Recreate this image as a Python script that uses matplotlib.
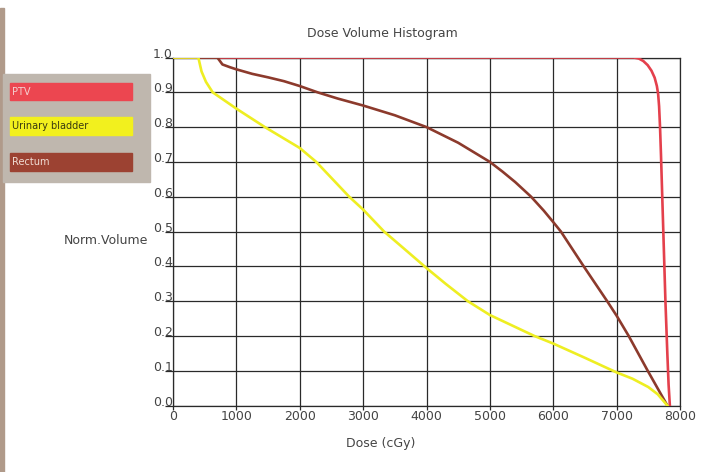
import matplotlib
matplotlib.use("Agg")
import matplotlib.pyplot as plt
from matplotlib.patches import Rectangle

# cumulative DVH points (dose in cGy, normalised volume)
ptv_dose = [0, 7270, 7350, 7420, 7490, 7550, 7600, 7635, 7655, 7670, 7685, 7700,
            7720, 7745, 7770, 7800, 7820, 7840]
ptv_vol = [1.0, 1.0, 0.997, 0.99, 0.978, 0.962, 0.942, 0.918, 0.895, 0.86, 0.8,
           0.72, 0.6, 0.45, 0.3, 0.15, 0.06, 0.0]

bladder_dose = [0, 400, 450, 520, 626, 1000, 1450, 2000, 2260, 2780, 3000, 3330,
                3650, 4000, 4300, 4650, 5000, 5700, 6000, 6500, 7000, 7250, 7500,
                7650, 7800]
bladder_vol = [1.0, 1.0, 0.96, 0.93, 0.9, 0.853, 0.8, 0.74, 0.7, 0.6, 0.563, 0.5,
               0.45, 0.395, 0.35, 0.3, 0.26, 0.2, 0.178, 0.137, 0.095, 0.077, 0.053,
               0.032, 0.0]

rectum_dose = [0, 700, 780, 900, 1000, 1250, 1500, 1750, 2000, 2280, 2600, 3000,
               3500, 4000, 4500, 5000, 5200, 5400, 5650, 5850, 6000, 6120, 6480,
               6850, 7000, 7190, 7490, 7800]
rectum_vol = [1.0, 1.0, 0.98, 0.972, 0.966, 0.953, 0.943, 0.932, 0.918, 0.9, 0.882,
              0.862, 0.834, 0.8, 0.755, 0.7, 0.672, 0.642, 0.6, 0.56, 0.527, 0.5,
              0.4, 0.3, 0.258, 0.2, 0.1, 0.0]

structures = ['PTV', 'Urinary bladder', 'Rectum']
line_colors = ['#e4404c', '#eeee22', '#8c3a2c']
box_colors = ['#ec4650', '#f2f01e', '#9c4232']
text_colors = ['#f4d0d0', '#3a3a10', '#f0dcd4']

x_ticks = [0, 1000, 2000, 3000, 4000, 5000, 6000, 7000, 8000]
y_ticks = [0.0, 0.1, 0.2, 0.3, 0.4, 0.5, 0.6, 0.7, 0.8, 0.9, 1.0]

fig = plt.figure(figsize=(7.11, 4.72), dpi=100)
ax = fig.add_axes([173 / 711, 1 - 405.5 / 472, 507 / 711, 348 / 472])

ax.plot(ptv_dose, ptv_vol, color=line_colors[0], lw=1.9, zorder=3)
ax.plot(rectum_dose, rectum_vol, color=line_colors[2], lw=1.9, zorder=4)
ax.plot(bladder_dose, bladder_vol, color=line_colors[1], lw=1.9, zorder=5)

ax.set_xlim(0, 8000)
ax.set_ylim(0, 1)
ax.set_xticks(x_ticks)
ax.set_xticklabels([str(t) for t in x_ticks])
ax.set_yticks(y_ticks)
ax.set_yticklabels(['%.1f' % t for t in y_ticks], va='baseline')
ax.grid(True, color='#2a2a2a', lw=0.9)
for s in ax.spines.values():
    s.set_color('#2a2a2a')
    s.set_linewidth(0.9)
ax.tick_params(axis='y', direction='out', length=6, width=0.9, pad=-6,
               labelsize=9, labelcolor='#444444', color='#2a2a2a')
ax.tick_params(axis='x', direction='out', length=3, width=0.9, pad=0,
               labelsize=9, labelcolor='#444444', color='#2a2a2a')

fig.text(382 / 711, 1 - 34 / 472, 'Dose Volume Histogram', ha='center', va='center',
         fontsize=9, color='#444444')
fig.text(148 / 711, 1 - 240 / 472, 'Norm.Volume', ha='right', va='center',
         fontsize=9, color='#444444')
fig.text(381 / 711, 1 - 444 / 472, 'Dose (cGy)', ha='center', va='center',
         fontsize=9, color='#444444')

# left border strip and legend panel
fig.patches.append(Rectangle((0, 0), 3.5 / 711, 1 - 8 / 472, transform=fig.transFigure,
                             color='#b09a8a', zorder=0))
fig.patches.append(Rectangle((3 / 711, 1 - 182 / 472), 147 / 711, 108 / 472,
                             transform=fig.transFigure, color='#bfb7ae', zorder=0))
box_tops = [83, 117, 153]
for name, top, fc, tc in zip(structures, box_tops, box_colors, text_colors):
    fig.patches.append(Rectangle((10 / 711, 1 - (top + 17.5) / 472), 122 / 711, 17.5 / 472,
                                 transform=fig.transFigure, color=fc, zorder=1))
    fig.text(12 / 711, 1 - (top + 9) / 472, name, ha='left', va='center',
             fontsize=7, color=tc)

fig.savefig('out.png', dpi=100)
